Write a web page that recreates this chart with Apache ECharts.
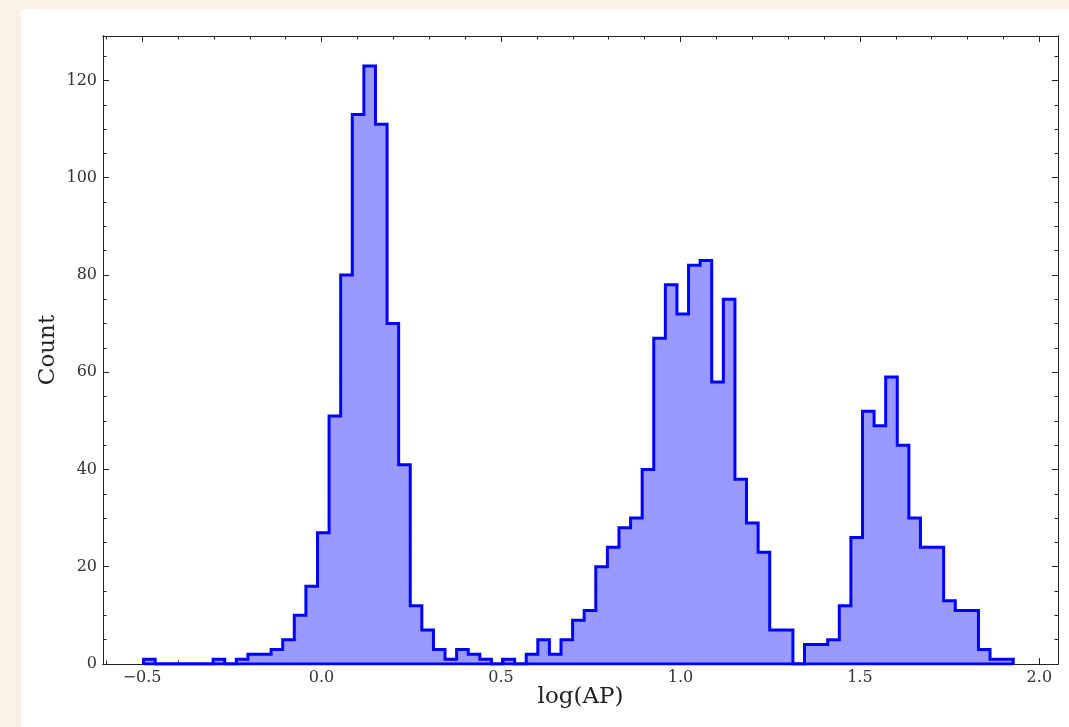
<!DOCTYPE html>
<html>
<head>
<meta charset="utf-8">
<script src="https://cdn.jsdelivr.net/npm/echarts@6/dist/echarts.min.js"></script>
<style>
  html, body { margin: 0; padding: 0; background: #f9f0e7; width: 1069px; height: 727px; overflow: hidden; }
  #chart { position: absolute; left: 21px; top: 9px; width: 1048px; height: 718px; background: #ffffff; }
</style>
</head>
<body>
<div id="chart"></div>
<script>
// ---- data ----
const binStart = -0.496;
const binWidth = 0.03231;
const counts = [1,0,0,0,0,0,1,0,1,2,2,3,5,10,16,27,51,80,113,123,111,70,41,12,7,3,1,3,2,1,
                0,1,0,2,5,2,5,9,11,20,24,28,30,40,67,78,72,82,83,58,75,38,29,23,7,7,0,4,4,5,
                12,26,52,49,59,45,30,24,24,13,11,11,3,1,1];
const xMajorTicks = [-0.5, 0.0, 0.5, 1.0, 1.5, 2.0];
const xMinorTicks = [-0.6,-0.4,-0.3,-0.2,-0.1,0.1,0.2,0.3,0.4,0.6,0.7,0.8,0.9,1.1,1.2,1.3,1.4,1.6,1.7,1.8,1.9];
const yMajorTicks = [0, 20, 40, 60, 80, 100, 120];
const yMinorTicks = [5,10,15,25,30,35,45,50,55,65,70,75,85,90,95,105,110,115,125];
const xRange = [-0.609, 2.052];
const yRange = [0, 129.15];
const xTitle = 'log(AP)';
const yTitle = 'Count';

// ---- build step outline from bins ----
const edges = counts.map((c, i) => binStart + i * binWidth);
const lastEdge = binStart + counts.length * binWidth;
const stepData = [[edges[0], 0]];
counts.forEach((c, i) => stepData.push([edges[i], c]));
stepData.push([lastEdge, counts[counts.length - 1]]);
stepData.push([lastEdge, 0]);
const baseData = [[edges[0], 0], [lastEdge, 0]];

const FONT = 'DejaVu Serif';
const AX = '#222';
const TICKFS = 16;
const TITLEFS = 23;
const fmtX = v => (v < 0 ? '\u2212' : '') + Math.abs(v).toFixed(1);

function xAxisDef(pos, ticks, len, labels, extra) {
  return Object.assign({
    type: 'value', position: pos, min: xRange[0], max: xRange[1],
    axisLine: { show: true, onZero: false, lineStyle: { color: AX, width: 1 } },
    axisTick: { show: true, inside: true, length: len, customValues: ticks, lineStyle: { color: AX, width: 1 } },
    axisLabel: labels ? { show: true, customValues: xMajorTicks, formatter: fmtX, fontFamily: FONT, fontSize: TICKFS, color: '#333', margin: 6 } : { show: false },
    splitLine: { show: false }
  }, extra || {});
}
function yAxisDef(pos, ticks, len, labels, extra) {
  return Object.assign({
    type: 'value', position: pos, min: yRange[0], max: yRange[1],
    axisLine: { show: true, onZero: false, lineStyle: { color: AX, width: 1 } },
    axisTick: { show: true, inside: true, length: len, customValues: ticks, lineStyle: { color: AX, width: 1 } },
    axisLabel: labels ? { show: true, customValues: yMajorTicks, fontFamily: FONT, fontSize: TICKFS, color: '#333', margin: 6 } : { show: false },
    splitLine: { show: false }
  }, extra || {});
}

const chart = echarts.init(document.getElementById('chart'), null, { renderer: 'canvas' });
chart.setOption({
  animation: false,
  backgroundColor: '#ffffff',
  grid: { left: 82, right: 11, top: 27, bottom: 63, show: false, outerBoundsMode: 'none' },
  xAxis: [
    xAxisDef('bottom', xMajorTicks, 6, true, { name: xTitle, nameLocation: 'middle', nameGap: 22, nameMoveOverlap: false,
      nameTextStyle: { fontFamily: FONT, fontSize: TITLEFS, color: '#222' } }),
    xAxisDef('bottom', xMinorTicks, 3.5, false),
    xAxisDef('top', xMajorTicks, 6, false),
    xAxisDef('top', xMinorTicks, 3.5, false)
  ],
  yAxis: [
    yAxisDef('left', yMajorTicks, 6, true, { name: yTitle, nameLocation: 'middle', nameGap: 43, nameMoveOverlap: false,
      nameTextStyle: { fontFamily: FONT, fontSize: TITLEFS, color: '#222' } }),
    yAxisDef('left', yMinorTicks, 3.5, false),
    yAxisDef('right', yMajorTicks, 6, false),
    yAxisDef('right', yMinorTicks, 3.5, false)
  ],
  series: [
    {
      type: 'line', xAxisIndex: 0, yAxisIndex: 0,
      data: stepData, step: 'end', symbol: 'none', silent: true,
      lineStyle: { color: '#0000ff', width: 3, join: 'miter' },
      areaStyle: { color: '#9999ff', opacity: 1, origin: 'start' },
      z: 3
    },
    {
      type: 'line', xAxisIndex: 0, yAxisIndex: 0,
      data: baseData, symbol: 'none', silent: true,
      lineStyle: { color: '#0000ff', width: 3 },
      z: 4
    }
  ]
});
</script>
</body>
</html>
